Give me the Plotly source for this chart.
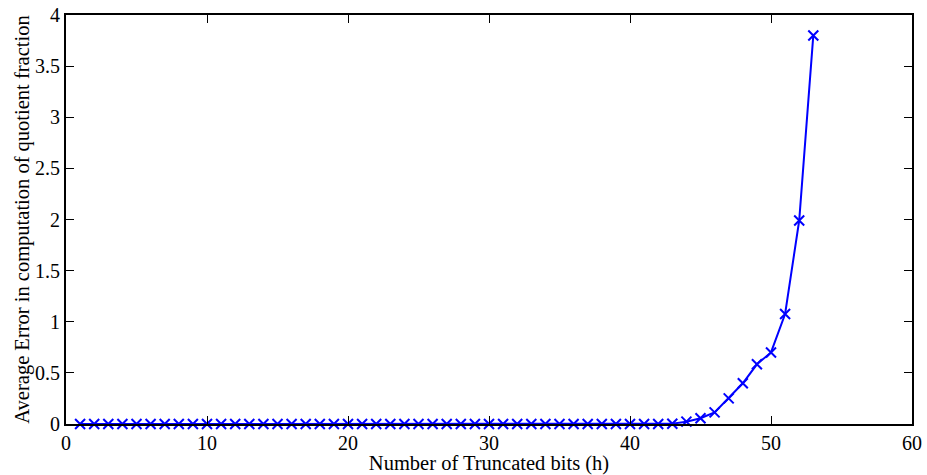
import plotly.graph_objects as go

h_bits = list(range(1, 54))
avg_error = [0.0] * 42 + [0.003, 0.023, 0.056, 0.114, 0.251, 0.398, 0.584, 0.70, 1.076, 1.99, 3.80]

x_ticks = [0, 10, 20, 30, 40, 50, 60]
y_ticks = [0, 0.5, 1, 1.5, 2, 2.5, 3, 3.5, 4]
y_tick_text = ["0", "0.5", "1", "1.5", "2", "2.5", "3", "3.5", "4"]

fig = go.Figure()
fig.add_trace(go.Scatter(
    x=h_bits, y=avg_error, mode="lines+markers",
    line=dict(color="#0000ff", width=2),
    marker=dict(symbol="x-thin-open", size=10, line=dict(color="#0000ff", width=2)),
    showlegend=False, cliponaxis=False,
))

tick_font = dict(family="Liberation Serif", size=20, color="black")
title_font = dict(family="Liberation Serif", size=20.5, color="black")
fig.update_layout(
    width=927, height=475,
    margin=dict(l=66, r=15, t=15, b=51, autoexpand=False),
    plot_bgcolor="white", paper_bgcolor="white",
    font=tick_font,
    xaxis=dict(
        range=[0, 60], tickvals=x_ticks, ticks="inside", ticklen=8, tickwidth=1,
        tickcolor="black", showline=True, linecolor="black", linewidth=2, mirror="ticks",
        showgrid=False, zeroline=False, automargin=False,
        title=dict(text="Number of Truncated bits (h)", font=title_font, standoff=0),
        tickfont=tick_font,
    ),
    yaxis=dict(
        range=[0, 4], tickvals=y_ticks, ticktext=y_tick_text, ticks="inside", ticklen=8, tickwidth=1,
        tickcolor="black", showline=True, linecolor="black", linewidth=2, mirror="ticks",
        showgrid=False, zeroline=False, automargin=False,
        title=dict(text="Average Error in computation of quotient fraction", font=title_font, standoff=0),
        tickfont=tick_font,
    ),
)

fig.write_html("out.html")
